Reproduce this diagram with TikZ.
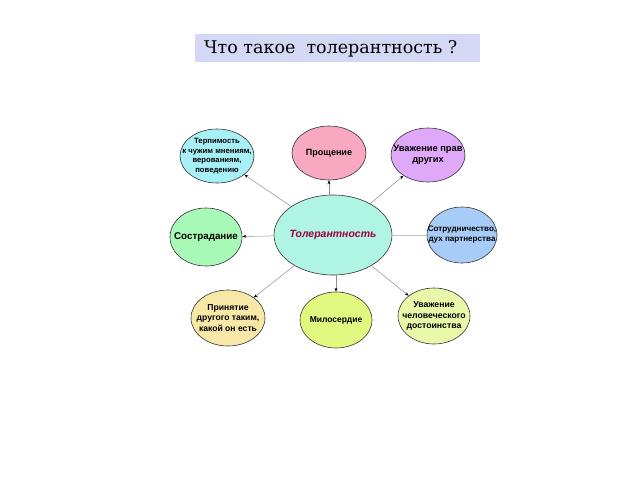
\documentclass[tikz,border=0pt]{standalone}
\usepackage{fontspec}
\setmainfont{Liberation Sans}
\newfontfamily\titlefont{DejaVu Serif}
\usetikzlibrary{shapes.geometric,arrows.meta}
\definecolor{cTL}{HTML}{A8F0F8}
\definecolor{cT}{HTML}{F8A8C0}
\definecolor{cTR}{HTML}{E0A8F8}
\definecolor{cL}{HTML}{A8F8B8}
\definecolor{cC}{HTML}{B0F4E4}
\definecolor{cR}{HTML}{A8CCF8}
\definecolor{cBL}{HTML}{F8E8A8}
\definecolor{cB}{HTML}{E0F880}
\definecolor{cBR}{HTML}{E8F8A8}
\definecolor{cTitle}{HTML}{D4D8F4}
\definecolor{cRed}{HTML}{A0003C}
\tikzset{
  bub/.style={ellipse, draw=black!80, line width=0.6pt, inner sep=0pt},
  lbl/.style 2 args={font=\bfseries\fontsize{#1}{#2}\selectfont, align=center, inner sep=0pt},
  conn/.style={draw=black!45, line width=0.5pt, -{Stealth[length=4pt,width=3pt,color=black]}},
  plainconn/.style={draw=black!25, line width=0.6pt}
}
\begin{document}
\begin{tikzpicture}[x=1pt,y=-1pt]
\useasboundingbox (0,0) rectangle (640,480);
% title
\node[fill=cTitle, minimum width=285pt, minimum height=28pt, inner sep=0pt] (titlebox) at (337.5,48) {};
\node[anchor=west, inner sep=0pt, font=\titlefont\fontsize{17.5}{20}\selectfont] (title) at (204,49) {Что такое\ \ толерантность ?};
% bubbles
\node[bub, fill=cC, minimum width=118pt, minimum height=80pt,
  label={[inner sep=0pt, font=\bfseries\itshape\fontsize{10.5}{13}\selectfont, text=cRed]center:Толерантность}] (c) at (333,235) {};
\node[bub, fill=cTL, minimum width=74pt, minimum height=54pt,
  label={[lbl={7.7}{9.5}]center:Терпимость\\к чужим мнениям,\\верованиям,\\поведению}] (tl) at (217,156) {};
\node[bub, fill=cT, minimum width=74pt, minimum height=54pt,
  label={[lbl={9}{11}]center:Прощение}] (t) at (329,153) {};
\node[bub, fill=cTR, minimum width=74pt, minimum height=54pt,
  label={[lbl={9.3}{11}]center:Уважение прав\\других}] (tr) at (428,155) {};
\node[bub, fill=cL, minimum width=72pt, minimum height=58pt,
  label={[lbl={9.8}{11}]center:Сострадание}] (l) at (206,237) {};
\node[bub, fill=cR, minimum width=70pt, minimum height=56pt,
  label={[lbl={8.1}{10}]center:Сотрудничество,\\дух партнерства}] (r) at (462,235) {};
\node[bub, fill=cBL, minimum width=74pt, minimum height=56pt,
  label={[lbl={8.6}{10.5}]center:Принятие\\другого таким,\\какой он есть}] (bl) at (228,318) {};
\node[bub, fill=cB, minimum width=72pt, minimum height=56pt,
  label={[lbl={8.5}{10}]center:Милосердие}] (b) at (336,320) {};
\node[bub, fill=cBR, minimum width=72pt, minimum height=56pt,
  label={[lbl={8.7}{10.5}]center:Уважение\\человеческого\\достоинства}] (br) at (434,316) {};
% connectors
\draw[conn] (c) -- (tl);
\draw[conn] (c.north -| t.south) -- (t.south);
\draw[conn] (c) -- (tr);
\draw[conn] (c) -- (l);
\draw[plainconn] (c) -- (r);
\draw[conn] (c) -- (bl);
\draw[conn] (c.south -| b.north) -- (b.north);
\draw[conn] (c) -- (br);
\end{tikzpicture}
\end{document}
